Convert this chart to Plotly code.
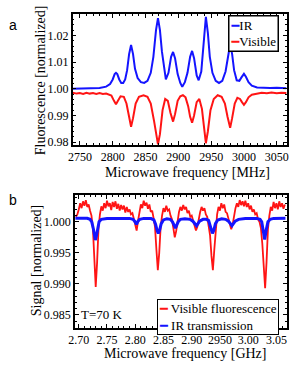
import plotly.graph_objects as go

# ---------------- Panel a data (frequency in MHz, normalized fluorescence) ----------------
ir_a_freq = [2739, 2760, 2780, 2790, 2796, 2800, 2803, 2805, 2807, 2810, 2813, 2816, 2819, 2822,
             2825, 2828, 2831, 2834, 2838, 2843, 2848, 2853, 2858, 2862, 2866, 2869, 2872, 2875,
             2878, 2881, 2885, 2889, 2892, 2895, 2899, 2903, 2906, 2910, 2914, 2918, 2921, 2924,
             2928, 2931, 2935, 2938, 2942, 2945, 2948, 2952, 2957, 2962, 2967, 2972, 2976, 2979,
             2982, 2985, 2989, 2993, 2996, 3000, 3003, 3007, 3012, 3020, 3040, 3050, 3065]
ir_a_fluor = [1.0000, 1.0001, 1.0003, 1.0008, 1.0018, 1.0035, 1.0055, 1.0060, 1.0055, 1.0035,
              1.0022, 1.0022, 1.0035, 1.0070, 1.0130, 1.0164, 1.0130, 1.0075, 1.0040, 1.0025,
              1.0022, 1.0030, 1.0060, 1.0120, 1.0220, 1.0265, 1.0220, 1.0140, 1.0080, 1.0035,
              1.0060, 1.0120, 1.0138, 1.0115, 1.0055, 1.0022, 1.0008, 1.0025, 1.0060, 1.0120,
              1.0142, 1.0115, 1.0050, 1.0032, 1.0065, 1.0150, 1.0270, 1.0210, 1.0120, 1.0060,
              1.0030, 1.0022, 1.0030, 1.0065, 1.0130, 1.0167, 1.0130, 1.0070, 1.0032, 1.0030,
              1.0042, 1.0056, 1.0045, 1.0025, 1.0012, 1.0005, 1.0003, 1.0004, 1.0002]

vis_a_freq = [2739, 2745, 2750, 2755, 2760, 2765, 2770, 2775, 2780, 2785, 2790, 2798, 2802, 2805,
              2808, 2812, 2817, 2821, 2825, 2828, 2831, 2835, 2840, 2847, 2853, 2858, 2863, 2866,
              2869, 2872, 2876, 2880, 2884, 2888, 2892, 2895, 2899, 2903, 2907, 2911, 2915, 2918,
              2921, 2924, 2928, 2932, 2936, 2939, 2942, 2945, 2949, 2954, 2960, 2966, 2971, 2975,
              2979, 2982, 2986, 2990, 2994, 2997, 3000, 3003, 3007, 3012, 3020, 3027, 3035, 3042,
              3050, 3057, 3065]
vis_a_fluor = [0.9985, 0.9982, 0.9984, 0.9981, 0.9985, 0.9982, 0.9984, 0.9981, 0.9984, 0.9981,
               0.9982, 0.9975, 0.9955, 0.9942, 0.9955, 0.9972, 0.9970, 0.9945, 0.9895, 0.9858,
               0.9890, 0.9945, 0.9970, 0.9976, 0.9970, 0.9945, 0.9880, 0.9830, 0.9792, 0.9830,
               0.9920, 0.9962, 0.9955, 0.9910, 0.9877, 0.9905, 0.9955, 0.9972, 0.9976, 0.9968,
               0.9935, 0.9895, 0.9873, 0.9900, 0.9950, 0.9962, 0.9925, 0.9860, 0.9796, 0.9840,
               0.9920, 0.9962, 0.9976, 0.9970, 0.9945, 0.9895, 0.9854, 0.9890, 0.9945, 0.9966,
               0.9962, 0.9950, 0.9940, 0.9950, 0.9968, 0.9978, 0.9982, 0.9985, 0.9983, 0.9986,
               0.9983, 0.9985, 0.9984]

# ---------------- Panel b data (frequency in GHz, normalized signal) ----------------
vis_b_freq = [2.6950, 2.6975, 2.7000, 2.7025, 2.7050, 2.7075, 2.7100, 2.7125, 2.7150, 2.7175,
              2.7200, 2.7225, 2.7250, 2.7275, 2.7300, 2.7325, 2.7350, 2.7375, 2.7400, 2.7425,
              2.7450, 2.7475, 2.7500, 2.7525, 2.7550, 2.7575, 2.7600, 2.7625, 2.7650, 2.7675,
              2.7700, 2.7725, 2.7750, 2.7775, 2.7800, 2.7825, 2.7850, 2.7875, 2.7900, 2.7925,
              2.7950, 2.7975, 2.8000, 2.8025, 2.8050, 2.8075, 2.8100, 2.8125, 2.8150, 2.8175,
              2.8200, 2.8225, 2.8250, 2.8275, 2.8300, 2.8325, 2.8350, 2.8375, 2.8400, 2.8425,
              2.8450, 2.8475, 2.8500, 2.8525, 2.8550, 2.8575, 2.8600, 2.8625, 2.8650, 2.8675,
              2.8700, 2.8725, 2.8750, 2.8775, 2.8800, 2.8825, 2.8850, 2.8875, 2.8900, 2.8925,
              2.8950, 2.8975, 2.9000, 2.9025, 2.9050, 2.9075, 2.9100, 2.9125, 2.9150, 2.9175,
              2.9200, 2.9225, 2.9250, 2.9275, 2.9300, 2.9325, 2.9350, 2.9375, 2.9400, 2.9425,
              2.9450, 2.9475, 2.9500, 2.9525, 2.9550, 2.9575, 2.9600, 2.9625, 2.9650, 2.9675,
              2.9700, 2.9725, 2.9750, 2.9775, 2.9800, 2.9825, 2.9850, 2.9875, 2.9900, 2.9925,
              2.9950, 2.9975, 3.0000, 3.0025, 3.0050, 3.0075, 3.0100, 3.0125, 3.0150, 3.0175,
              3.0200, 3.0225, 3.0250, 3.0275, 3.0300, 3.0325, 3.0350, 3.0375, 3.0400, 3.0425,
              3.0450, 3.0475, 3.0500, 3.0525, 3.0550, 3.0575, 3.0600, 3.0625, 3.0650]
vis_b_signal = [1.0008, 1.0012, 1.0020, 1.0030, 1.0022, 1.0033, 1.0026, 1.0035, 1.0024, 1.0028,
                1.0018, 1.0010, 0.9990, 0.9940, 0.9895, 0.9935, 0.9990, 1.0012, 1.0025, 1.0018,
                1.0030, 1.0022, 1.0034, 1.0025, 1.0030, 1.0019, 1.0032, 1.0024, 1.0033, 1.0021,
                1.0029, 1.0018, 1.0027, 1.0020, 1.0026, 1.0015, 1.0024, 1.0016, 1.0020, 1.0012,
                1.0014, 1.0005, 0.9995, 0.9986, 1.0002, 1.0018, 1.0028, 1.0022, 1.0034, 1.0026,
                1.0031, 1.0021, 1.0028, 1.0016, 1.0018, 1.0006, 0.9992, 0.9955, 0.9922, 0.9950,
                0.9992, 1.0010, 1.0022, 1.0016, 1.0026, 1.0018, 1.0020, 1.0010, 1.0004, 0.9990,
                0.9975, 0.9985, 1.0004, 1.0016, 1.0024, 1.0018, 1.0027, 1.0020, 1.0024, 1.0014,
                1.0018, 1.0008, 1.0010, 1.0002, 0.9994, 0.9986, 0.9992, 1.0006, 1.0016, 1.0024,
                1.0018, 1.0022, 1.0012, 1.0008, 0.9996, 0.9978, 0.9945, 0.9922, 0.9955, 0.9992,
                1.0012, 1.0024, 1.0018, 1.0030, 1.0022, 1.0028, 1.0016, 1.0014, 1.0004, 0.9996,
                0.9988, 0.9996, 1.0010, 1.0022, 1.0030, 1.0024, 1.0035, 1.0027, 1.0033, 1.0025,
                1.0034, 1.0024, 1.0030, 1.0020, 1.0026, 1.0016, 1.0020, 1.0012, 1.0014, 1.0004,
                1.0000, 0.9990, 0.9965, 0.9925, 0.9893, 0.9935, 0.9988, 1.0010, 1.0024, 1.0018,
                1.0032, 1.0022, 1.0030, 1.0020, 1.0033, 1.0024, 1.0030, 1.0021, 1.0028]

ir_b_freq = [2.694, 2.715, 2.720, 2.723, 2.726, 2.728, 2.7293, 2.731, 2.733, 2.736, 2.740, 2.750,
             2.790, 2.796, 2.799, 2.8022, 2.805, 2.808, 2.815, 2.828, 2.833, 2.836, 2.839, 2.8408,
             2.843, 2.846, 2.850, 2.856, 2.862, 2.866, 2.8712, 2.876, 2.880, 2.888, 2.897, 2.902,
             2.9086, 2.914, 2.920, 2.926, 2.930, 2.933, 2.935, 2.9367, 2.939, 2.942, 2.946, 2.953,
             2.960, 2.965, 2.9712, 2.977, 2.983, 2.995, 3.015, 3.021, 3.024, 3.027, 3.0293, 3.032,
             3.035, 3.039, 3.045, 3.066]
ir_b_signal = [1.00057, 1.00057, 1.0004, 1.0000, 0.9988, 0.9976, 0.99707, 0.9976, 0.9988, 1.0000,
               1.0004, 1.00055, 1.00055, 1.0004, 1.0001, 0.9996, 1.0001, 1.0004, 1.00055, 1.00052,
               1.0003, 0.9996, 0.9985, 0.99814, 0.9986, 0.9997, 1.0003, 1.0005, 1.0004, 1.0000,
               0.99898, 1.0000, 1.0004, 1.0005, 1.0004, 1.0001, 0.99936, 1.0001, 1.0004, 1.0004,
               1.0002, 0.9994, 0.9985, 0.99814, 0.9986, 0.9997, 1.0003, 1.0005, 1.0004, 1.0001,
               0.99936, 1.0001, 1.0004, 1.00055, 1.00055, 1.0004, 1.0000, 0.9987, 0.99713, 0.9987,
               1.0000, 1.0004, 1.00055, 1.00057]

# tick labels
a_xticks = [2750, 2800, 2850, 2900, 2950, 3000, 3050]
a_yticks = [0.98, 0.99, 1.00, 1.01, 1.02]
b_xticks = [2.70, 2.75, 2.80, 2.85, 2.90, 2.95, 3.00, 3.05]
b_xticktext = ["2.70", "2.75", "2.80", "2.85", "2.90", "2950", "3.00", "3.05"]
b_yticks = [0.985, 0.990, 0.995, 1.000]

BLUE = "rgb(20,20,255)"
RED = "rgb(255,20,20)"
SERIF = "Liberation Serif, DejaVu Serif, serif"
SANS = "Liberation Sans, Arial, sans-serif"
W, H = 299, 366

fig = go.Figure()
fig.add_trace(go.Scatter(x=vis_a_freq, y=vis_a_fluor, mode="lines", name="Visible",
                         line=dict(color=RED, width=2), xaxis="x", yaxis="y", showlegend=False))
fig.add_trace(go.Scatter(x=ir_a_freq, y=ir_a_fluor, mode="lines", name="IR",
                         line=dict(color=BLUE, width=2), xaxis="x", yaxis="y", showlegend=False))
fig.add_trace(go.Scatter(x=vis_b_freq, y=vis_b_signal, mode="lines", name="Visible fluorescence",
                         line=dict(color=RED, width=1.8), xaxis="x2", yaxis="y2", showlegend=False))
fig.add_trace(go.Scatter(x=ir_b_freq, y=ir_b_signal, mode="lines", name="IR transmission",
                         line=dict(color=BLUE, width=3), xaxis="x2", yaxis="y2", showlegend=False))


def px(x):
    return x / W


def py(y):
    return 1 - y / H


axis_common = dict(showline=True, linecolor="black", linewidth=1.5, mirror="allticks",
                   ticks="inside", ticklen=4, tickwidth=1, tickcolor="black",
                   showgrid=False, zeroline=False,
                   tickfont=dict(family=SERIF, size=12, color="black"))

fig.update_layout(
    width=W, height=H, margin=dict(l=0, r=0, t=0, b=0),
    plot_bgcolor="white", paper_bgcolor="white",
    xaxis=dict(domain=[px(68.5), px(288.3)], range=[2739, 3065], tickvals=a_xticks,
               minor=dict(dtick=10, ticks="inside", ticklen=2, tickcolor="black"),
               anchor="y", **axis_common),
    yaxis=dict(domain=[py(146.7), py(14)], range=[0.9789, 1.0281], tickvals=a_yticks,
               tickformat=".2f",
               minor=dict(dtick=0.002, ticks="inside", ticklen=2, tickcolor="black"),
               anchor="x", **axis_common),
    xaxis2=dict(domain=[px(70.7), px(288.3)], range=[2.693, 3.068], tickvals=b_xticks,
                ticktext=b_xticktext,
                minor=dict(dtick=0.01, ticks="inside", ticklen=2, tickcolor="black"),
                anchor="y2", **axis_common),
    yaxis2=dict(domain=[py(331.7), py(197.3)], range=[0.98287, 1.0043], tickvals=b_yticks,
                tickformat=".3f",
                minor=dict(dtick=0.001, ticks="inside", ticklen=2, tickcolor="black"),
                anchor="x2", **axis_common),
)


def label(text, x, y, size=14, family=SERIF, angle=0):
    return dict(text=text, x=px(x), y=py(y), xref="paper", yref="paper", showarrow=False,
                xanchor="center", yanchor="middle", textangle=angle,
                font=dict(family=family, size=size, color="black"))


ann = [
    label("a", 7, 25, size=14, family=SANS),
    label("b", 7, 202, size=14, family=SANS),
    label("Fluorescence [normalized]", 35, 81, angle=-90),
    label("Microwave frequency [MHz]", 187, 174),
    label("Signal [normalized]", 31, 263, angle=-90),
    label("Microwave frequency [GHz]", 184, 357),
    label("T=70 K", 99, 318, size=13),
]
# legends
ann.append(dict(text=f"<span style='color:{BLUE}'>━</span>IR<br><span style='color:{RED}'>━</span>Visible",
                x=px(228), y=py(15), xref="paper", yref="paper", xanchor="left", yanchor="top",
                align="left", showarrow=False, bgcolor="white", bordercolor="black", borderwidth=1.5,
                borderpad=1, font=dict(family=SERIF, size=13, color="black")))
ann.append(dict(text=f"<span style='color:{RED}'>━</span> Visible fluorescence<br><span style='color:{BLUE}'>━</span> IR transmission",
                x=px(155), y=py(302), xref="paper", yref="paper", xanchor="left", yanchor="top",
                align="left", showarrow=False, bgcolor="white", bordercolor="black", borderwidth=1,
                borderpad=1, font=dict(family=SERIF, size=13, color="black")))
fig.update_layout(annotations=ann)

fig.write_html("out.html", config={"displayModeBar": False},
               post_script="document.body.style.margin='0';document.body.style.overflow='hidden';")
